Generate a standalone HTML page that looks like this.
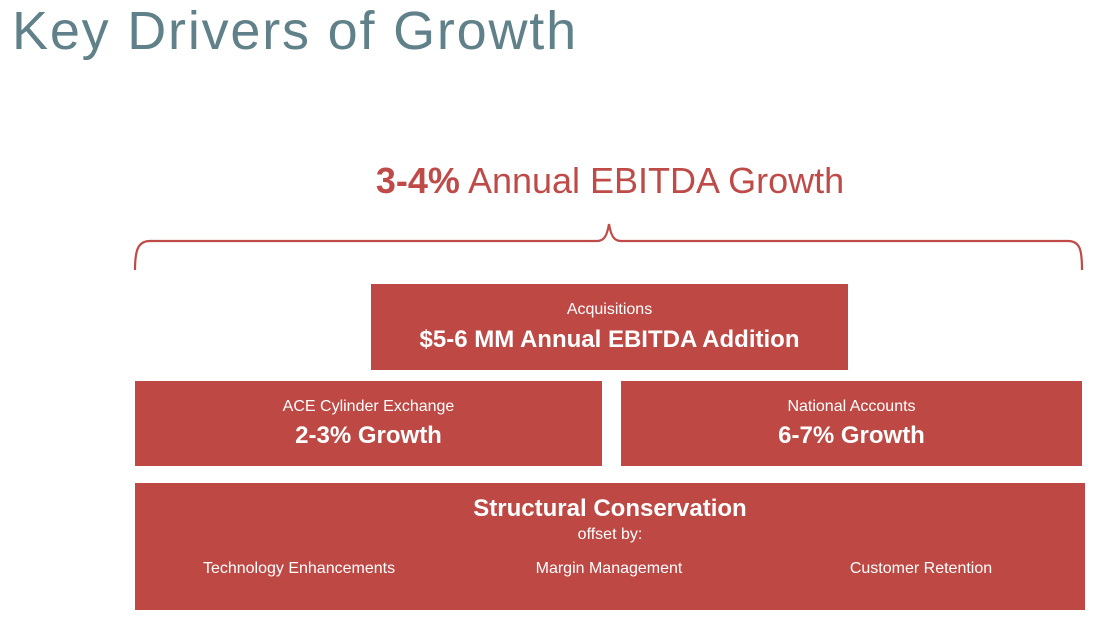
<!DOCTYPE html>
<html><head><meta charset="utf-8"><style>
body{margin:0;width:1106px;height:623px;background:#fff;font-family:"Liberation Sans",sans-serif;position:relative;overflow:hidden}
.t{position:absolute;left:12px;top:0px;font-size:54px;color:#60808a;letter-spacing:1.8px}
.h{position:absolute;left:0;width:1220px;top:160px;text-align:center;font-size:36px;color:#be4b48}
.box{position:absolute;background:#be4844;color:#fff;text-align:center}
.s{font-size:16px}.b{font-size:24px;font-weight:bold}
</style></head><body>
<div class="t">Key Drivers of Growth</div>
<div class="h"><b>3-4%</b> Annual EBITDA Growth</div>
<svg style="position:absolute;left:0;top:0" width="1106" height="623">
<path d="M135 270 C135 250 138 241 150 241 L597 241 C604 241 607 236 609 224 C611 236 614 241 621 241 L1068 241 C1080 241 1082 250 1082 270" fill="none" stroke="#be4b48" stroke-width="2.2"/>
</svg>
<div class="box" style="left:371px;top:284px;width:477px;height:86px">
<div class="s" style="margin-top:17px">Acquisitions</div><div class="b" style="margin-top:7px">$5-6 MM Annual EBITDA Addition</div></div>
<div class="box" style="left:135px;top:381px;width:467px;height:85px">
<div class="s" style="margin-top:17px">ACE Cylinder Exchange</div><div class="b" style="margin-top:6px">2-3% Growth</div></div>
<div class="box" style="left:621px;top:381px;width:461px;height:85px">
<div class="s" style="margin-top:17px">National Accounts</div><div class="b" style="margin-top:6px">6-7% Growth</div></div>
<div class="box" style="left:135px;top:483px;width:950px;height:127px">
<div class="b" style="margin-top:12px">Structural Conservation</div><div class="s" style="margin-top:3px">offset by:</div>
<div class="s" style="position:absolute;top:77px;left:0;width:328px">Technology Enhancements</div>
<div class="s" style="position:absolute;top:77px;left:316px;width:316px">Margin Management</div>
<div class="s" style="position:absolute;top:77px;left:628px;width:316px">Customer Retention</div>
</div>
</body></html>
